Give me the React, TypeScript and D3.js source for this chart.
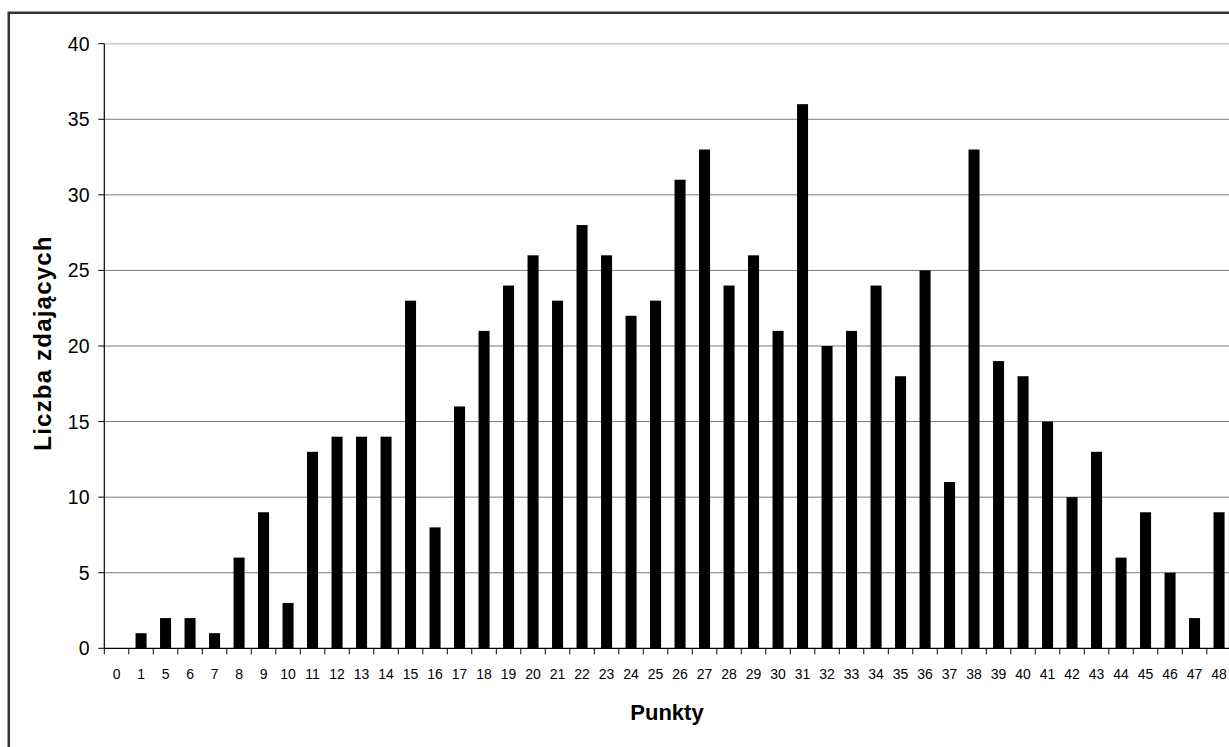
import React from "react";
import * as d3 from "d3";

const categories: string[] = [
  "0", "1", "5", "6", "7", "8", "9", "10", "11", "12", "13", "14", "15", "16", "17", "18",
  "19", "20", "21", "22", "23", "24", "25", "26", "27", "28", "29", "30", "31", "32", "33",
  "34", "35", "36", "37", "38", "39", "40", "41", "42", "43", "44", "45", "46", "47", "48",
];
const counts: number[] = [
  0, 1, 2, 2, 1, 6, 9, 3, 13, 14, 14, 14, 23, 8, 16, 21,
  24, 26, 23, 28, 26, 22, 23, 31, 33, 24, 26, 21, 36, 20, 21,
  24, 18, 25, 11, 33, 19, 18, 15, 10, 13, 6, 9, 5, 2, 9,
];
const yTicks: number[] = [0, 5, 10, 15, 20, 25, 30, 35, 40];
const xTitle = "Punkty";
const yTitle = "Liczba zdających";

const W = 1229;
const H = 747;
const left = 104.3;
const top = 43.7;
const bottom = 648.3;
const step = 24.5;
const FONT = "'Liberation Sans', Arial, sans-serif";

export default function App() {
  const right = left + categories.length * step;
  const x = d3
    .scaleBand<string>()
    .domain(categories)
    .range([left, right])
    .paddingInner(0.55)
    .paddingOuter(0.275);
  const y = d3.scaleLinear().domain([0, 40]).range([bottom, top]);

  return (
    <svg
      width={W}
      height={H}
      style={{ position: "absolute", left: 0, top: 0, background: "#fff" }}
      fontFamily={FONT}
    >
      <rect x={0} y={0} width={W} height={H} fill="#fff" />
      <rect
        x={8.75}
        y={12.75}
        width={W + 20}
        height={H + 20}
        fill="none"
        stroke="#333"
        strokeWidth={2.5}
      />
      {yTicks.map((t) =>
        t === 0 ? null : (
          <line
            key={"g" + t}
            x1={left}
            x2={W}
            y1={y(t)}
            y2={y(t)}
            stroke={t === 40 ? "#d4d4d4" : "#7a7a7a"}
            strokeWidth={t === 40 ? 2 : 1}
          />
        )
      )}
      {categories.map((c, i) =>
        counts[i] > 0 ? (
          <rect
            key={"b" + c}
            x={x(c)!}
            y={y(counts[i])}
            width={x.bandwidth()}
            height={y(0) - y(counts[i])}
            fill="#000"
          />
        ) : null
      )}
      <line x1={left} x2={left} y1={top} y2={bottom} stroke="#000" strokeWidth={1.2} />
      {yTicks.map((t) => (
        <g key={"y" + t}>
          <line x1={left - 6} x2={left} y1={y(t)} y2={y(t)} stroke="#000" strokeWidth={1} />
          <text
            x={89.5}
            y={y(t)}
            dy="0.36em"
            textAnchor="end"
            fontSize={19.5}
            fill="#000"
          >
            {t}
          </text>
        </g>
      ))}
      <line x1={left} x2={W} y1={bottom} y2={bottom} stroke="#000" strokeWidth={1.2} />
      {categories.map((c, i) => (
        <g key={"x" + c}>
          <line
            x1={left + i * step}
            x2={left + i * step}
            y1={bottom}
            y2={bottom + 6}
            stroke="#000"
            strokeWidth={1}
          />
          <text
            x={x(c)! + x.bandwidth() / 2}
            y={678.5}
            textAnchor="middle"
            fontSize={14}
            fill="#000"
          >
            {c}
          </text>
        </g>
      ))}
      <text x={667} y={720} textAnchor="middle" fontSize={22} fontWeight="bold" fill="#000">
        {xTitle}
      </text>
      <text
        transform="translate(51,343) rotate(-90)"
        textAnchor="middle"
        fontSize={24}
        fontWeight="bold"
        letterSpacing={1.2}
        fill="#000"
      >
        {yTitle}
      </text>
    </svg>
  );
}
